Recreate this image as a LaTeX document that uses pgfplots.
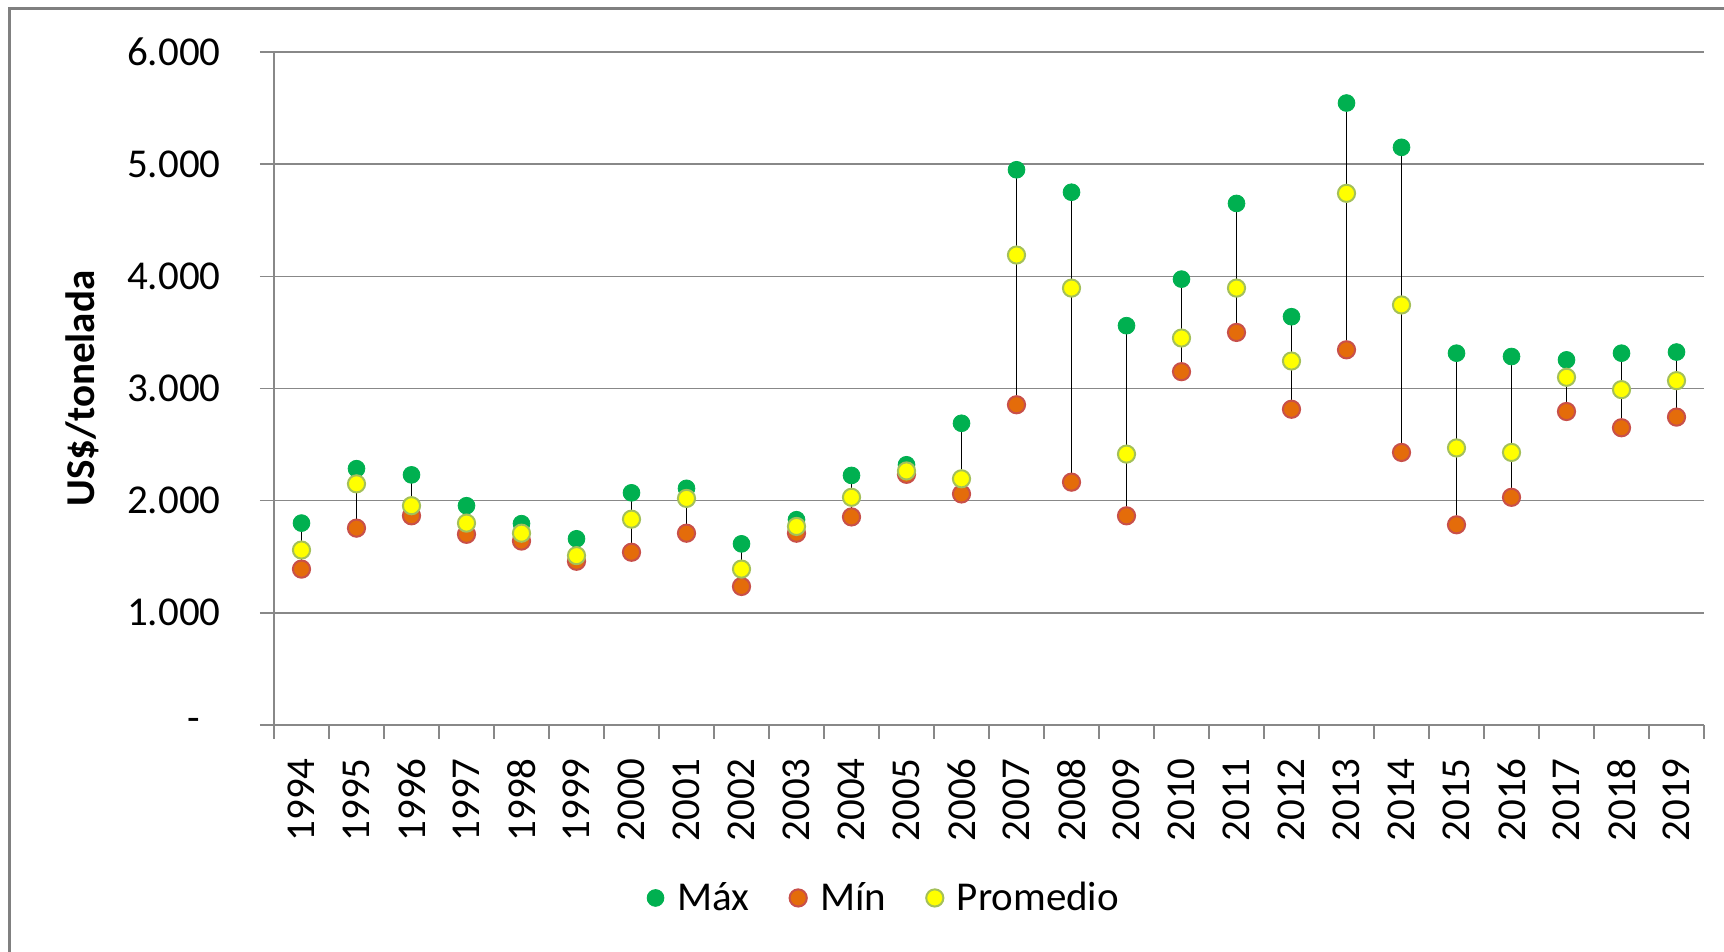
\documentclass[border=0pt]{standalone}
\usepackage{pgfplots}
\pgfplotsset{compat=1.18}
\usepackage{pgfplotstable}
\usepackage{fontspec}
\setmainfont{Carlito}

\definecolor{maxg}{HTML}{00B050}
\definecolor{minfill}{HTML}{E46C0A}
\definecolor{minedge}{HTML}{C8504A}
\definecolor{promfill}{HTML}{FFFF00}
\definecolor{promedge}{HTML}{A4C05A}
\definecolor{gridc}{HTML}{888888}
\definecolor{framec}{HTML}{808080}

% precios US$/tonelada: maximo, minimo, promedio anual
\pgfplotstableread{
x year max min prom
0 1994 1800 1390 1560
1 1995 2285 1755 2150
2 1996 2230 1865 1955
3 1997 1955 1700 1800
4 1998 1795 1640 1710
5 1999 1660 1460 1510
6 2000 2070 1540 1835
7 2001 2110 1710 2020
8 2002 1615 1235 1390
9 2003 1830 1710 1770
10 2004 2225 1855 2030
11 2005 2320 2235 2265
12 2006 2690 2060 2195
13 2007 4950 2855 4190
14 2008 4750 2165 3895
15 2009 3560 1865 2415
16 2010 3975 3150 3450
17 2011 4650 3500 3895
18 2012 3640 2815 3245
19 2013 5545 3345 4740
20 2014 5150 2430 3745
21 2015 3315 1785 2470
22 2016 3285 2030 2430
23 2017 3255 2795 3100
24 2018 3315 2650 2990
25 2019 3325 2745 3070
}\data

\newcommand{\fs}{\fontsize{20.5}{24}\selectfont}

\begin{document}
\begin{tikzpicture}
\useasboundingbox (-137pt,-113.5pt) rectangle (725pt,362.5pt);
\draw[framec, line width=1.5pt] (-132.25pt,-130pt) -- (-132.25pt,358.25pt) -- (740pt,358.25pt);
\begin{axis}[
    at={(0pt,0pt)}, anchor=south west,
    width=715pt, height=336.5pt, scale only axis,
    clip=false,
    xmin=-0.5, xmax=25.5, ymin=0, ymax=6000,
    axis x line=bottom, axis y line=left,
    axis line style={gridc, line width=0.8pt, -},
    xtick={0,...,25},
    xticklabels from table={\data}{year},
    minor xtick={-0.5,0.5,...,25.5},
    major x tick style={draw=none},
    minor x tick style={gridc, line width=0.8pt},
    ytick={0,1000,...,6000},
    yticklabels={-\hphantom{0},1.000,2.000,3.000,4.000,5.000,6.000},
    y tick style={gridc, line width=0.8pt},
    tick align=outside,
    major tick length=7pt, minor tick length=7pt,
    ymajorgrids, grid style={gridc, line width=0.8pt},
    tick label style={font=\fs, black},
    xticklabel style={rotate=90, anchor=east, inner sep=0pt, xshift=-9.5pt},
    yticklabel style={anchor=east, inner sep=0pt, xshift=-19.5pt},
    ylabel={\bfseries US\$/tonelada},
    ylabel style={font=\fs, at={(axis description cs:-0.1343,0.5)}, anchor=center},
    legend columns=-1,
    legend style={draw=none, fill=none, font=\fs,
        at={(axis description cs:0.4273,-0.257)}, anchor=center,
        /tikz/every even column/.append style={column sep=18pt}},
    legend image code/.code={\path[draw=none, fill=none] (0pt,0pt) -- (13pt,0pt);
        \draw[#1] plot coordinates {(4pt,0pt)};},
]
\addplot[only marks, mark=none, forget plot,
    error bars/.cd, y dir=plus, y explicit, error mark=none,
    error bar style={draw=black, solid, line width=0.7pt}]
    table[x=x, y=min, y error expr=\thisrow{max}-\thisrow{min}] {\data};
\addplot[only marks, mark=*, mark size=4.2pt, draw=maxg, fill=maxg]
    table[x=x, y=max] {\data};
\addplot[only marks, mark=*, mark size=4.3pt, line width=1pt, draw=minedge, fill=minfill]
    table[x=x, y=min] {\data};
\addplot[only marks, mark=*, mark size=4.3pt, line width=1pt, draw=promedge, fill=promfill]
    table[x=x, y=prom] {\data};
\legend{Máx, Mín, Promedio}
\end{axis}
\end{tikzpicture}
\end{document}
